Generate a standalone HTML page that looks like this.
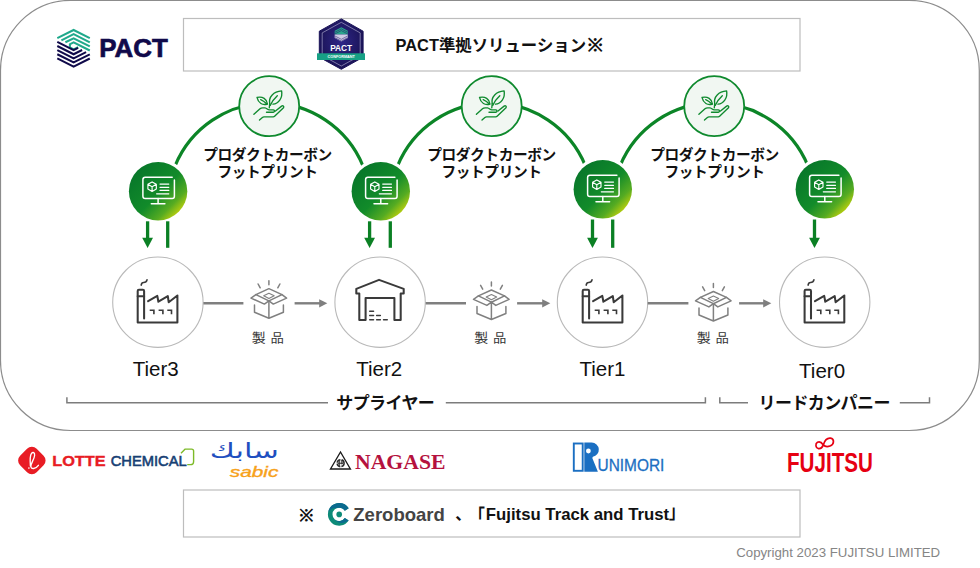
<!DOCTYPE html>
<html lang="ja">
<head>
<meta charset="utf-8">
<title>PACT準拠ソリューション</title>
<style>
html,body{margin:0;padding:0;background:#fff;}
body{width:980px;height:568px;overflow:hidden;position:relative;font-family:"Liberation Sans","Noto Sans CJK JP",sans-serif;}
svg{position:absolute;left:0;top:0;display:block;}
text{font-family:"Liberation Sans","Noto Sans CJK JP",sans-serif;}
.jb{font-weight:bold;fill:#111;}
.tier{font-size:19.5px;fill:#111;}
.pcf{font-size:14.7px;letter-spacing:-0.4px;font-weight:bold;fill:#111;text-anchor:middle;}
.seihin{font-size:14px;letter-spacing:-0.5px;word-spacing:-1.5px;fill:#333;font-family:"IPAGothic","Noto Sans CJK JP",sans-serif;}
</style>
</head>
<body>
<svg width="980" height="568" viewBox="0 0 980 568">
<defs>
  <linearGradient id="gg" x1="0.150" y1="0.150" x2="0.880" y2="0.880">
    <stop offset="0" stop-color="#08782a"/>
    <stop offset="0.520" stop-color="#128b2a"/>
    <stop offset="0.800" stop-color="#55ab22"/>
    <stop offset="1" stop-color="#c6d30b"/>
  </linearGradient>
  <radialGradient id="bg" cx="0.5" cy="0.45" r="0.6">
    <stop offset="0" stop-color="#2e2687"/>
    <stop offset="1" stop-color="#18114f"/>
  </radialGradient>
  <!-- monitor icon, centred on 0,0 -->
  <g id="monitor" fill="none" stroke="#fff" stroke-width="1.500" stroke-linecap="round" stroke-linejoin="round">
    <path d="M14.100 -13.900H-12.900Q-15.200 -13.900 -15.200 -11.600V5Q-15.200 7.300 -12.900 7.300H14Q16.300 7.300 16.300 5V-11.300"/>
    <path d="M0 7.300V12.600M-6.800 12.600H6.800"/>
    <path d="M-6 -9.300L-1.800 -6.900V-2.100L-6 0.300L-10.200 -2.100V-6.900ZM-10.200 -6.900L-6 -4.500L-1.800 -6.900M-6 -4.500V0.300" stroke-width="1.150"/>
    <path d="M1.900 -7.100H10.700M1.900 -3.900H10.700M1.900 -0.800H10.700M-1.500 2.600H10.700" stroke-width="1.200"/>
  </g>
  <!-- plant-in-hand icon, centred on 0,0 -->
  <g id="plant" fill="none" stroke="#0f8a2e" stroke-width="1.350" stroke-linecap="round" stroke-linejoin="round">
    <path d="M0.500 -2.500C-0.800 -9.500 4.500 -14.600 12.400 -15.300C13.800 -8 9 -2.500 3.800 -2"/>
    <path d="M1 -0.800C2.500 -4.500 5 -7.500 8.100 -10.400"/>
    <path d="M-12.200 -8.750C-6.500 -10.200 -2.300 -7 -1.700 -2.200C-6.500 -0.600 -11 -3 -12.200 -8.750Z"/>
    <path d="M-8.500 -6.600C-6 -5.500 -4 -4 -2.300 -2.300"/>
    <path d="M0.500 -2.500L0.100 1.600"/>
    <path d="M-15.300 8.100L-9.200 2.500C-8.300 1.700 -7.500 1.600 -6.500 1.600H-4.200C-2.200 1.800 -1.700 3.700 0.100 3.700H4.200A1.150 1.150 0 0 1 4.200 6H-2.700"/>
    <path d="M-9.700 13.900L-6.800 11.300C-6.300 10.900 -5.800 10.700 -5.200 10.700H4C4.600 10.700 5 10.500 5.400 10.100L14.300 1.600C15.200 0.200 13.700 -1 12.400 -0.100L6.300 4.800"/>
  </g>
  <!-- factory icon, centred on 0,0 -->
  <g id="factory" fill="none" stroke="#3a3a3a" stroke-width="2.050" stroke-linejoin="round" stroke-linecap="round">
    <path d="M-9.800 -1L-0.600 -6.300L0.500 -0.500L9.900 -6.100L10.800 0L19.500 -6.700V20.300H-20.200V-11.300Q-20.200 -12.500 -19 -12.500H-15Q-13.800 -12.500 -13.800 -11.300V16.300"/>
    <path d="M-20.200 -5.900H-13.800"/>
    <path d="M-16.700 -17C-16.500 -18.800 -15.800 -19.700 -14.300 -19.700C-12.300 -19.700 -11.300 -20.500 -10.900 -22.300" stroke-width="1.600"/>
    <path d="M-8.200 8H-4V12M0.700 8H5V12M9.400 8H13.600V12" stroke-width="1.600" stroke-linecap="butt" stroke-linejoin="miter"/>
  </g>
  <!-- warehouse icon, centred on 0,0 -->
  <g id="warehouse" fill="none" stroke="#3a3a3a" stroke-width="2.050" stroke-linejoin="round" stroke-linecap="round">
    <path d="M-1.060 -22.300L-23.800 -13.300V-8.800H-20.800V17.850H-14.500V-4.300H14.300V17.850H20.600V-8.800H23.600V-13.300Z"/>
    <path d="M-10.400 9.100H-6.500M-10.400 13.300H-6.500M-3.500 13.300H0.300M-10.400 17.500H-6.500M-3.500 17.500H0.300M3.400 17.500H7.200" stroke-width="1.400"/>
  </g>
  <!-- open box icon, centred on 0,0 (x), y from top of rays -->
  <g id="box" fill="none" stroke="#808080" stroke-width="1.500" stroke-linejoin="round" stroke-linecap="round">
    <path d="M0 -20.100V-16.200M-10.800 -16.900L-8.700 -13.100M11 -16.900L8.900 -13.100"/>
    <path d="M0 -12.250L-13 -6.300L0 0L13.100 -6.300Z"/>
    <path d="M-13 -6.300L-17.900 -2.800L-4.500 3.200L0 0L4.400 3.200L17.700 -2.800L13.100 -6.300"/>
    <path d="M0 -7.700L-5.200 -5.200L0 -2.400L5.300 -5.200Z" stroke-width="1.100"/>
    <path d="M-14.400 4.200V11.300L0 17.300L14.500 11.300V4.200M0 0V17.300"/>
  </g>
</defs>

<!-- outer frame -->
<rect x="0.500" y="0.400" width="978.800" height="430.100" rx="70" ry="70" fill="#fff" stroke="#8c8c8c" stroke-width="1.200"/>

<!-- top box -->
<rect x="183.500" y="18.500" width="616.500" height="52.500" fill="#fff" stroke="#bdbdbd" stroke-width="1.200"/>
<!-- bottom box -->
<rect x="183.500" y="490" width="616.500" height="47" fill="#fff" stroke="#bdbdbd" stroke-width="1.200"/>

<!-- SECTION: pact-logo -->
<g transform="translate(50 22) scale(0.13266)" fill="none" stroke-width="15.500" stroke-linejoin="miter" stroke-linecap="butt">
  <g stroke="#1fa98b">
    <path d="M55 122L178 60L300 122"/>
    <path d="M86 138L178 92L300 153"/>
    <path d="M116 153L178 123L300 184"/>
    <path d="M148 169L178 154L300 215"/>
    <path d="M150 164V192L178 206L212 189" />
  </g>
  <g stroke="#100a4a">
    <path d="M55 150L178 212L212 195"/>
    <path d="M55 181L178 243L242 211"/>
    <path d="M55 212L178 274L272 227"/>
    <path d="M55 243L178 305L300 244"/>
    <path d="M55 274L178 336L300 275"/>
  </g>
</g>
<text x="99.200" y="57.400" font-size="26.500" font-weight="bold" fill="#100a4a" stroke="#100a4a" stroke-width="0.700" textLength="68.500" lengthAdjust="spacingAndGlyphs">PACT</text>
<!-- SECTION: badge -->
<g>
  <path d="M341.300 18.900L363.100 31.200V57.200L341.300 69.300L319.300 57.200V31.200Z" fill="url(#bg)" stroke="#1a1358" stroke-width="1" stroke-linejoin="round"/>
  <path d="M341.300 22.300L360.200 32.900V55.500L341.300 66L322.200 55.500V32.900Z" fill="none" stroke="#d9d6ee" stroke-width="0.500"/>
  <path d="M341.300 27.300L347.800 30.800V34.500H334.700V30.800Z" fill="#2aa58c"/>
  <path d="M334.700 34.500H347.800V37.900L341.300 41.500L334.700 37.900Z" fill="#cfcbe6"/>
  <path d="M335 32.200l6.300-3.300l6.300 3.300M335 33.900l6.300-3.300l6.300 3.300" stroke="#1c1563" stroke-width="0.500" fill="none"/>
  <path d="M335 36l6.300 3.300l6.300-3.300M335 37.700l6.300 3.300l6.300-3.300" stroke="#1c1563" stroke-width="0.500" fill="none"/>
  <rect x="317" y="53.300" width="48" height="6.700" fill="#17a085"/>
  <text x="341.200" y="50.800" font-size="8.600" font-weight="bold" fill="#fff" text-anchor="middle" textLength="22" lengthAdjust="spacingAndGlyphs">PACT</text>
  <text x="341.200" y="58.100" font-size="3.800" font-weight="bold" fill="#fff" text-anchor="middle" textLength="27.500" lengthAdjust="spacingAndGlyphs">CONFORMANT</text>
</g>
<text x="395.500" y="50.800" class="jb" font-size="16.400">PACT準拠ソリューション<tspan font-size="16.400" dx="0.800" style="font-family:'IPAGothic','Noto Sans CJK JP',sans-serif">※</tspan></text>

<!-- SECTION: arcs -->
<g fill="none" stroke="#0c8527" stroke-width="3.200">
  <path d="M175 166A101.600 101.600 0 0 1 363 166"/>
  <path d="M397.500 166A101.600 101.600 0 0 1 585.500 166"/>
  <path d="M620 166A101.600 101.600 0 0 1 808 166"/>
</g>
<g>
  <circle cx="269.200" cy="106.200" r="30" fill="#f1f7f2" stroke="#0f8a2e" stroke-width="1.800"/>
  <use href="#plant" x="269.200" y="106.200"/>
  <circle cx="491.700" cy="106.200" r="30" fill="#f1f7f2" stroke="#0f8a2e" stroke-width="1.800"/>
  <use href="#plant" x="491.700" y="106.200"/>
  <circle cx="714.200" cy="106.200" r="30" fill="#f1f7f2" stroke="#0f8a2e" stroke-width="1.800"/>
  <use href="#plant" x="714.200" y="106.200"/>
</g>
<g>
  <circle cx="158.100" cy="191.200" r="32.300" fill="#fff"/>
  <circle cx="158.100" cy="191.200" r="29.200" fill="url(#gg)"/>
  <use href="#monitor" x="158.100" y="191.200"/>
  <circle cx="380.800" cy="191.200" r="32.300" fill="#fff"/>
  <circle cx="380.800" cy="191.200" r="29.200" fill="url(#gg)"/>
  <use href="#monitor" x="380.800" y="191.200"/>
  <circle cx="602.800" cy="189.200" r="32.300" fill="#fff"/>
  <circle cx="602.800" cy="189.200" r="29.200" fill="url(#gg)"/>
  <use href="#monitor" x="602.800" y="189.200"/>
  <circle cx="824.800" cy="189.200" r="32.300" fill="#fff"/>
  <circle cx="824.800" cy="189.200" r="29.200" fill="url(#gg)"/>
  <use href="#monitor" x="824.800" y="189.200"/>
</g>

<!-- PCF labels -->
<text class="pcf" x="267.500" y="159.800">プロダクトカーボン</text>
<text class="pcf" x="267.500" y="176.800">フットプリント</text>
<text class="pcf" x="491.500" y="159.800">プロダクトカーボン</text>
<text class="pcf" x="491.500" y="176.800">フットプリント</text>
<text class="pcf" x="714.500" y="159.800">プロダクトカーボン</text>
<text class="pcf" x="714.500" y="176.800">フットプリント</text>

<!-- green arrows -->
<g stroke="#0b8024" stroke-width="3.300" fill="#0b8024">
  <path d="M147.600 221.300V240"/><path d="M142.200 237.800h10.800l-5.400 10.200z" stroke="none"/>
  <path d="M167.700 221.300V247.800"/>
  <path d="M369.600 221.300V240"/><path d="M364.200 237.800h10.800l-5.400 10.200z" stroke="none"/>
  <path d="M390.300 221.300V247.800"/>
  <path d="M592.500 219.500V240"/><path d="M587.100 237.800h10.800l-5.400 10.200z" stroke="none"/>
  <path d="M612.700 219.500V247.800"/>
  <path d="M814.500 219.500V240"/><path d="M809.100 237.800h10.800l-5.400 10.200z" stroke="none"/>
</g>

<!-- tier circles -->
<g fill="#fff" stroke="#b9b9b9" stroke-width="1.100">
  <circle cx="157.900" cy="302.200" r="45.200"/>
  <circle cx="380.100" cy="302.200" r="45.200"/>
  <circle cx="602.500" cy="302.200" r="45.200"/>
  <circle cx="824.700" cy="302.200" r="45.200"/>
</g>
<use href="#factory" x="157.900" y="302.200"/>
<use href="#warehouse" x="380.100" y="302.200"/>
<use href="#factory" x="602.900" y="302.200"/>
<use href="#factory" x="824.800" y="302.200"/>

<!-- flow lines -->
<g stroke="#7f7f7f" stroke-width="2.400" fill="#7f7f7f">
  <path d="M203.400 303.300H243.400"/><path d="M294.600 303.300H320.500"/><path d="M319.200 299.200l8.100 4.100l-8.100 4.100z" stroke="none"/>
  <path d="M425.700 303.300H466"/><path d="M517.100 303.300H543.500"/><path d="M542.200 299.200l8.100 4.100l-8.100 4.100z" stroke="none"/>
  <path d="M647.700 303.300H688.400"/><path d="M739.100 303.300H764.500"/><path d="M763.200 299.200l8.100 4.100l-8.100 4.100z" stroke="none"/>
</g>
<use href="#box" x="268.900" y="300.900"/>
<use href="#box" x="491.400" y="302.200"/>
<use href="#box" x="713.400" y="303.700"/>
<text class="seihin" x="251.800" y="343.300">製 品</text>
<text class="seihin" x="474.300" y="343.300">製 品</text>
<text class="seihin" x="696.800" y="343.300">製 品</text>

<!-- tier labels -->
<text class="tier" x="132.700" y="375.900" textLength="46" lengthAdjust="spacingAndGlyphs">Tier3</text>
<text class="tier" x="356.200" y="375.900" textLength="46" lengthAdjust="spacingAndGlyphs">Tier2</text>
<text class="tier" x="579.500" y="375.900" textLength="46" lengthAdjust="spacingAndGlyphs">Tier1</text>
<text class="tier" x="799.100" y="378" textLength="46" lengthAdjust="spacingAndGlyphs">Tier0</text>

<!-- brackets -->
<g fill="none" stroke="#7c7c7c" stroke-width="1.500">
  <path d="M66.900 397.200V402.800H328"/>
  <path d="M445.800 402.800H705.400V397.200"/>
  <path d="M719.800 397.200V402.800H748"/>
  <path d="M899.800 402.800H929.500V397.200"/>
</g>
<text class="jb" x="336.300" y="409.400" font-size="17" letter-spacing="-0.600">サプライヤー</text>
<text class="jb" x="758.600" y="409.400" font-size="17" letter-spacing="-0.600">リードカンパニー</text>

<!-- SECTION: logos -->
<!-- LOTTE CHEMICAL -->
<g>
  <rect x="-11.700" y="-11.700" width="23.400" height="23.400" rx="6.800" transform="translate(31.850 460.500) rotate(45)" fill="#e81c24"/>
  <path d="M30.400 466C30 461 29.600 456 31.500 453.400C33 451.600 34.900 452.500 34.600 455.500C34.100 460 30.600 463 30.900 466.800C31.100 469.300 35.500 469.300 38.400 465.300" fill="none" stroke="#fff" stroke-width="1.350" stroke-linecap="round"/>
  <circle cx="28.900" cy="468.100" r="0.800" fill="#fff"/>
  <text x="52.200" y="465.600" font-size="14.200" font-weight="bold" fill="#e81c24" stroke="#e81c24" stroke-width="0.350" textLength="53.500" lengthAdjust="spacingAndGlyphs">LOTTE</text>
  <text x="110.700" y="466.200" font-size="15" fill="#173f74" stroke="#173f74" stroke-width="0.600" textLength="76" lengthAdjust="spacingAndGlyphs">CHEMICAL</text>
  <path d="M181 453.300l4.200-4.200h6.400q2 0 2 2v10.300q0 3.200-3.200 3.200h-3.200" fill="none" stroke="#7dba28" stroke-width="1.400" stroke-linejoin="round"/>
</g>
<!-- SABIC -->
<g>
  <text x="278.800" y="457.600" font-size="21.500" fill="#1f4fc0" direction="rtl" text-anchor="start" style="font-family:'DejaVu Sans','Noto Sans CJK JP',sans-serif" textLength="69" lengthAdjust="spacingAndGlyphs">سابك</text>
  <text x="229.800" y="476.700" font-size="14.400" font-style="italic" fill="#f7a11a" stroke="#f7a11a" stroke-width="0.350" textLength="48.500" lengthAdjust="spacingAndGlyphs">sabic</text>
</g>
<!-- NAGASE -->
<g>
  <path d="M340.500 452L350.400 469H330.500Z" fill="#fff" stroke="#1a1a1a" stroke-width="1.350" stroke-linejoin="miter"/>
  <circle cx="340.600" cy="463.200" r="3.500" fill="#e9e9e9" stroke="#2a2a2a" stroke-width="1.500" stroke-dasharray="4.500 1.200"/>
  <path d="M339.200 460.300v5.800M341.900 460v4.200M338 463.300h5" stroke="#2a2a2a" stroke-width="1.100" fill="none"/>
  <text x="355" y="469.300" font-size="21.600" font-weight="bold" fill="#b5123e" style="font-family:'Liberation Serif','Noto Serif CJK JP',serif" textLength="90.500" lengthAdjust="spacingAndGlyphs">NAGASE</text>
</g>
<!-- KUNIMORI -->
<g>
  <rect x="573.800" y="443.500" width="8.900" height="27.300" fill="#fff" stroke="#1b6fc2" stroke-width="1.900"/>
  <path d="M584.300 442.600H591.700A7.100 7.100 0 0 1 592.900 456.700L592.300 458L597.900 471.700H584.300Z" fill="#1b6fc2"/>
  <circle cx="588.400" cy="451" r="2.400" fill="#fff"/>
  <text x="597.500" y="471.400" font-size="16.900" fill="#1b6fc2" stroke="#1b6fc2" stroke-width="0.300" textLength="66.800" lengthAdjust="spacingAndGlyphs">UNIMORI</text>
</g>
<!-- FUJITSU -->
<g>
  <text x="787" y="471.600" font-size="27.300" font-weight="bold" fill="#e60012" textLength="86" lengthAdjust="spacingAndGlyphs">FUJITSU</text>
  <path d="M823.300 444.900C824.500 441 827 437.800 830.500 438.200C834.500 438.800 834.500 444.500 830 446C827 447 824.800 446.500 823.300 444.900C822 443 819.500 441.300 817.500 442.300C815 443.800 815.500 448 818.500 448.600C821 449 822.500 447 823.300 444.900Z" fill="none" stroke="#e60012" stroke-width="1.700" stroke-linejoin="round"/>
</g>

<!-- bottom box content -->
<text x="298.800" y="521.300" font-size="15.200" font-weight="bold" fill="#111" style="font-family:'IPAGothic','Noto Sans CJK JP',sans-serif">※</text>
<!-- SECTION: zeroboard -->
<g>
  <path d="M348.68 508.25A11.3 11.3 0 1 0 348.68 520.55L344.82 518.05A6.7 6.7 0 1 1 344.82 510.75Z" fill="#0d8b78"/>
  <path d="M348.68 508.25A11.3 11.3 0 0 0 328.10 512.40C329.30 509.50 333.30 507.50 339.20 507.70A6.7 6.7 0 0 1 344.82 510.75Z" fill="#0b6a8f"/>
  <path d="M344.82 518.05A6.7 6.7 0 0 1 334.80 519.50C337.80 523.50 343.80 524.30 348.68 520.55Z" fill="#0b6a8f"/>
  <circle cx="339.200" cy="514.400" r="2.800" fill="#0d8b78"/>
</g>
<text x="353.300" y="520.800" font-size="18.500" font-weight="bold" fill="#444" textLength="91.600" lengthAdjust="spacingAndGlyphs">Zeroboard</text>
<text x="455.200" y="520.100" font-size="16" font-weight="bold" fill="#111">、</text>
<text x="468.600" y="520.700" font-size="17" font-weight="bold" fill="#111" style="font-family:'IPAGothic','Noto Sans CJK JP',sans-serif">「</text>
<text x="485.800" y="519.600" font-size="16.100" font-weight="bold" fill="#111" textLength="183.300" lengthAdjust="spacingAndGlyphs">Fujitsu Track and Trust</text>
<text x="668.300" y="518.900" font-size="17" font-weight="bold" fill="#111" style="font-family:'IPAGothic','Noto Sans CJK JP',sans-serif">」</text>

<text x="736.200" y="556.800" font-size="13.400" fill="#858585" textLength="204" lengthAdjust="spacingAndGlyphs">Copyright 2023 FUJITSU LIMITED</text>
</svg>
</body>
</html>
